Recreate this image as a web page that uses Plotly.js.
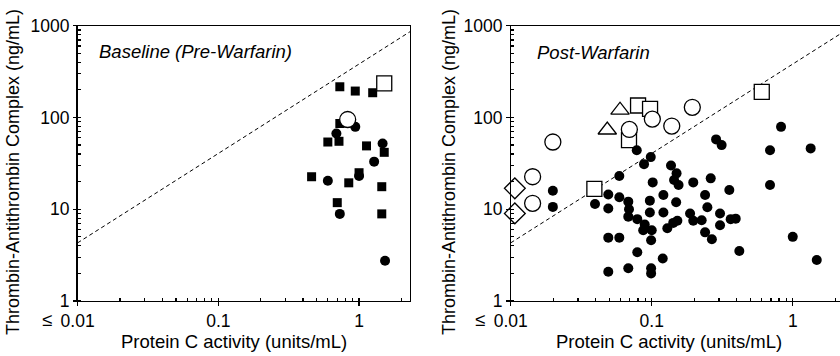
<!DOCTYPE html>
<html>
<head>
<meta charset="utf-8">
<script src="https://cdn.plot.ly/plotly-3.0.1.min.js"></script>
<style>
html,body{margin:0;padding:0;background:#fff;}
#chart{width:840px;height:356px;}
</style>
</head>
<body>
<div id="chart"></div>
<script>
// ---------- data ----------
var xTickText = ['0.01', '0.1', '1'];
var yTickText = ['1', '10', '100', '1000'];

var lineX = [0.01, 2.3];
var lineY = [4.3, 860];

// Baseline (Pre-Warfarin)
var preSqX = [0.73, 0.94, 1.25, 0.73, 0.60, 0.72, 1.13, 1.51, 0.46, 0.845, 1.0, 1.45, 0.70, 1.45];
var preSqY = [216, 194, 186, 86, 54, 55, 49, 41.7, 22.6, 19.4, 25, 17.6, 11.8, 8.9];
var preCircX = [0.94, 0.69, 1.47, 1.28, 0.60, 1.0, 0.73, 1.53];
var preCircY = [79, 67, 52, 33, 20.4, 23, 8.9, 2.75];
var preOpenSqX = [1.51];
var preOpenSqY = [235];
var preOpenCircX = [0.83];
var preOpenCircY = [95];

// Post-Warfarin
var postCircX = [0.0199, 0.0199, 0.0396, 0.0492, 0.0492, 0.0492, 0.0492, 0.0589, 0.0589, 0.0589,
  0.0682, 0.069, 0.0682, 0.0682, 0.0783, 0.079, 0.079, 0.0882, 0.0984, 0.0892,
  0.087, 0.1, 0.097, 0.097, 0.1016, 0.099, 0.099, 0.099, 0.121, 0.121,
  0.1197, 0.129, 0.137, 0.150, 0.144, 0.155, 0.149, 0.142, 0.152, 0.197,
  0.187, 0.197, 0.226, 0.239, 0.248, 0.262, 0.239, 0.267, 0.286, 0.313,
  0.305, 0.305, 0.355, 0.363, 0.394, 0.418, 0.69, 0.69, 0.826, 1.0,
  1.34, 1.48];
var postCircY = [15.9, 10.6, 11.4, 14.5, 10.2, 4.9, 2.08, 23, 13.5, 4.9,
  12.1, 10, 8.3, 2.27, 44, 7.8, 3.4, 31, 37, 6.8,
  5.9, 5.9, 9.2, 12.4, 19.6, 4.6, 2.27, 2.0, 14.3, 9.2,
  2.9, 6.2, 30, 24.6, 20.8, 18.4, 11.9, 7.1, 7.5, 19.6,
  9.0, 7.5, 7.6, 14.3, 10.5, 21.7, 5.6, 4.7, 57.7, 50,
  9.0, 6.7, 16.2, 7.8, 7.9, 3.5, 44, 18.4, 79, 5.0,
  46, 2.8];
var postOpenSqX = [0.0392, 0.080, 0.0973, 0.069, 0.603];
var postOpenSqY = [16.7, 135, 124, 56.7, 190];
var postOpenCircX = [0.0143, 0.0143, 0.0199, 0.0694, 0.101, 0.1387, 0.194];
var postOpenCircY = [22.6, 11.6, 54, 74, 96, 80.6, 129];
var postTriX = [0.0596, 0.0484];
var postTriY = [120, 73];
var postDiaX = [0.0107, 0.0107];
var postDiaY = [16.9, 9.0];

// ---------- styles ----------
var FONT = 'Liberation Sans, Arial, Helvetica, sans-serif';
function filled(sym, size) { return {symbol: sym, size: size, color: '#000', line: {width: 0}}; }
function open(sym, size) { return {symbol: sym, size: size, color: '#fff', line: {width: 1.3, color: '#000'}}; }
function pts(x, y, marker, xa, ya) {
  return {x: x, y: y, type: 'scatter', mode: 'markers', marker: marker, xaxis: xa, yaxis: ya,
          hoverinfo: 'skip', cliponaxis: false, showlegend: false};
}
function dashLine(xa, ya) {
  return {x: lineX, y: lineY, type: 'scatter', mode: 'lines', xaxis: xa, yaxis: ya,
          line: {color: '#000', width: 1, dash: '4px,3px'}, hoverinfo: 'skip', showlegend: false};
}

var data = [
  dashLine('x', 'y'),
  pts(preSqX, preSqY, filled('square', 9), 'x', 'y'),
  pts(preCircX, preCircY, filled('circle', 10), 'x', 'y'),
  pts(preOpenSqX, preOpenSqY, open('square', 15), 'x', 'y'),
  pts(preOpenCircX, preOpenCircY, open('circle', 16), 'x', 'y'),

  dashLine('x2', 'y2'),
  pts(postOpenSqX, postOpenSqY, open('square', 15), 'x2', 'y2'),
  pts(postCircX, postCircY, filled('circle', 10), 'x2', 'y2'),
  pts(postTriX, postTriY, open('triangle-up', 16), 'x2', 'y2'),
  pts(postDiaX, postDiaY, open('diamond', 16), 'x2', 'y2'),
  pts(postOpenCircX, postOpenCircY, open('circle', 16), 'x2', 'y2')
];

var TICKSIZE = 17.5;
var minorSpec = {ticks: 'inside', ticklen: 3.5, tickwidth: 1.2, tickcolor: '#000', dtick: 'D1', showgrid: false};

function logAxis(domain, range, anchor, mirror) {
  return {
    type: 'log', domain: domain, range: range, anchor: anchor,
    tickmode: 'linear', tick0: 0, dtick: 1, exponentformat: 'none',
    ticks: 'outside', ticklen: 3.5, tickwidth: 1.2, tickcolor: '#000',
    minor: minorSpec,
    showline: true, linecolor: '#000', linewidth: 1.2, mirror: mirror,
    showgrid: false, zeroline: false,
    tickfont: {family: FONT, size: TICKSIZE, color: '#000'}
  };
}

var yDom = [1 - 301 / 356, 1 - 25.7 / 356];
var xDom1 = [77.6 / 840, 410 / 840], xRange1 = [-2, 0.362];
var xDom2 = [510.7 / 840, 1], xRange2 = [-2, 0.335];
var txt = {family: FONT, size: 18.5, color: '#000'};
function ann(text, x, y, extra) {
  var a = {text: text, x: x, y: y, xref: 'paper', yref: 'paper', showarrow: false, font: txt,
           xanchor: 'center', yanchor: 'middle'};
  for (var k in extra) a[k] = extra[k];
  return a;
}

var layout = {
  width: 840, height: 356,
  margin: {l: 0, r: 0, t: 0, b: 0},
  paper_bgcolor: '#fff', plot_bgcolor: '#fff',
  showlegend: false,
  xaxis: logAxis(xDom1, xRange1, 'y', true),
  yaxis: logAxis(yDom, [0, 3], 'x', true),
  xaxis2: logAxis(xDom2, xRange2, 'y2', true),
  yaxis2: logAxis(yDom, [0, 3], 'x2', false),
  annotations: [
    ann('Thrombin-Antithrombin Complex (ng/mL)', 13 / 840, 1 - 172 / 356, {textangle: -90, font: {family: FONT, size: 18, color: '#000'}}),
    ann('Thrombin-Antithrombin Complex (ng/mL)', 449 / 840, 1 - 172 / 356, {textangle: -90, font: {family: FONT, size: 18, color: '#000'}}),
    ann('Protein C activity (units/mL)', 233.7 / 840, 1 - 341.7 / 356),
    ann('Protein C activity (units/mL)', 668.8 / 840, 1 - 341.7 / 356),
    ann('<i>Baseline (Pre-Warfarin)</i>', 96.7 / 840, 1 - 51.7 / 356, {xanchor: 'left'}),
    ann('<i>Post-Warfarin</i>', 535 / 840, 1 - 53 / 356, {xanchor: 'left'}),
    ann('\u2264', 47 / 840, 1 - 319 / 356),
    ann('\u2264', 480 / 840, 1 - 319 / 356)
  ]
};

Plotly.newPlot('chart', data, layout, {staticPlot: true, displayModeBar: false});
</script>
</body>
</html>
